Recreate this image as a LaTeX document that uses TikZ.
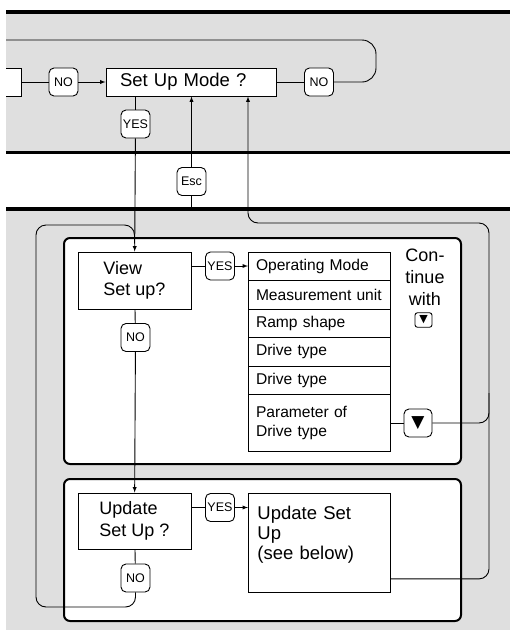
\documentclass[tikz,border=0pt]{standalone}
\usepackage{fontspec}
\setmainfont{Liberation Sans}
\newfontfamily\symfont{DejaVu Sans}
\usepackage{tikz}
\usetikzlibrary{positioning}
\definecolor{SUGray}{HTML}{DFDFDF}
\tikzset{
  flow/.style={line width=0.9pt},
  qbox/.style={draw,fill=white,line width=0.9pt,minimum width=113pt,minimum height=57pt,align=left,font=\fontsize{18}{21.5}\selectfont},
  tag/.style={draw,fill=white,line width=0.9pt,rounded corners=5pt,minimum width=29pt,minimum height=28pt,inner sep=0pt,font=\fontsize{12.5}{14}\selectfont},
  rowbox/.style={draw,fill=white,line width=0.9pt,outer sep=0pt,text width=126pt,inner xsep=8pt,inner ysep=0pt,minimum height=28.5pt,align=left,font=\fontsize{15.6}{19}\selectfont},
  panel/.style={draw,fill=white,line width=2pt,rounded corners=6pt},
  band/.style={line width=3.5pt},
}

\begin{document}
\begin{tikzpicture}[x=1pt,y=-1pt]
\useasboundingbox (0,0) rectangle (510,630);
\clip (6,0) rectangle (510,630);
% bands
\fill[SUGray] (6,12) rectangle (510,152.5);
\fill[SUGray] (6,209) rectangle (510,630);
\draw[band] (6,12) -- (510,12);
\draw[band] (6,152.5) -- (510,152.5);
\draw[band] (6,209) -- (510,209);
\draw[panel] (64,238) rectangle (461,464);
\draw[panel] (64,479) rectangle (461,621);

% top row
\node[draw,fill=white,line width=0.9pt,minimum width=42pt,minimum height=28pt] (prev) at (0,82) {};
\node[tag] (no1) at (63.5,82) {NO};
\node[qbox,minimum width=170pt,minimum height=28pt,text width=142pt,inner xsep=14pt,inner ysep=0pt,font=\fontsize{18.5}{22}\selectfont] (mode) at (191,82) {Set Up Mode ?};
\node[tag] (no2) at (319,82) {NO};
\node[tag] (yes1) at (135.5,124) {YES};
\node[tag] (esc) at (191.5,181.5) {Esc};
\coordinate (loopend) at (0,40);
\coordinate (escfoot) at (191.5,209);

% view set up
\node[qbox] (view) at (134.5,280.5) {View\\Set up?};
\node[tag] (yes2) at (220,266) {YES};
\node[tag] (no3) at (135.5,337.5) {NO};
\node[rowbox,anchor=north west] (r1) at (248,252) {Operating Mode};
\node[rowbox,below=0pt of r1] (r2) {Measurement unit};
\node[rowbox,below=0pt of r2] (r3) {Ramp shape};
\node[rowbox,below=0pt of r3] (r4) {Drive type};
\node[rowbox,below=0pt of r4] (r5) {Drive type};
\node[rowbox,below=0pt of r5,minimum height=57pt] (r6) {Parameter of\\Drive type};
\node[align=center,font=\fontsize{18}{22}\selectfont] (cont) at (425,277) {Con-\\tinue\\with};
\node[draw,line width=0.9pt,rounded corners=2.5pt,minimum width=17pt,minimum height=14.5pt,inner sep=0pt,font=\symfont\fontsize{11}{11}\selectfont] (cmark) at (423.5,320) {▼};
\node[tag,minimum width=28pt,font=\symfont\fontsize{17}{17}\selectfont] (down) at (418,423) {▼};

% update set up
\node[qbox,minimum height=56pt] (update) at (134.5,521) {Update\\Set Up ?};
\node[tag] (yes3) at (220,507.5) {YES};
\node[tag] (no4) at (135.5,578) {NO};
\node[draw,fill=white,line width=0.9pt,anchor=north west,text width=124pt,inner xsep=9pt,minimum height=99pt,align=left,font=\fontsize{18.5}{20}\selectfont] (upd) at (248,493) {Update Set\\Up\\(see below)\\~};

\coordinate (rloop) at (489,223);
\coordinate (lloop) at (36,225);
\coordinate (lloopbot) at (36,607);

% connectors
\draw[flow] (prev) -- (no1);
\draw[flow,-latex] (no1) -- (mode);
\draw[flow] (mode) -- (no2);
\draw[flow,rounded corners=14pt] (no2.east) -- (376,82) -- (376,40) -- (loopend);
\draw[flow] (mode.south -| yes1) -- (yes1);
\draw[flow,-latex] (yes1) -- (view);
\draw[flow,-latex] (esc) -- (esc |- mode.south);
\draw[flow] (esc) -- (escfoot);
\draw[flow] (view.east |- yes2) -- (yes2);
\draw[flow,-latex] (yes2) -- (yes2 -| r1.west);
\draw[flow] (view) -- (no3);
\draw[flow,-latex] (no3) -- (update);
\draw[flow] (r6.east |- down) -- (down);
\draw[flow,rounded corners=10pt] (down.east) -| ([yshift=30pt]down.east -| rloop);
\draw[flow] (update.east |- yes3) -- (yes3);
\draw[flow,-latex] (yes3) -- (yes3 -| upd.west);
\draw[flow] (update) -- (no4);
\draw[flow,-latex,rounded corners=10pt] ([yshift=14pt]upd.south east) -| (rloop) -| (mode.south -| r1.west);
\draw[flow,rounded corners=10pt] (no4) |- (lloopbot) -- (lloop) -| ([yshift=8pt]view.north);
\end{tikzpicture}
\end{document}
